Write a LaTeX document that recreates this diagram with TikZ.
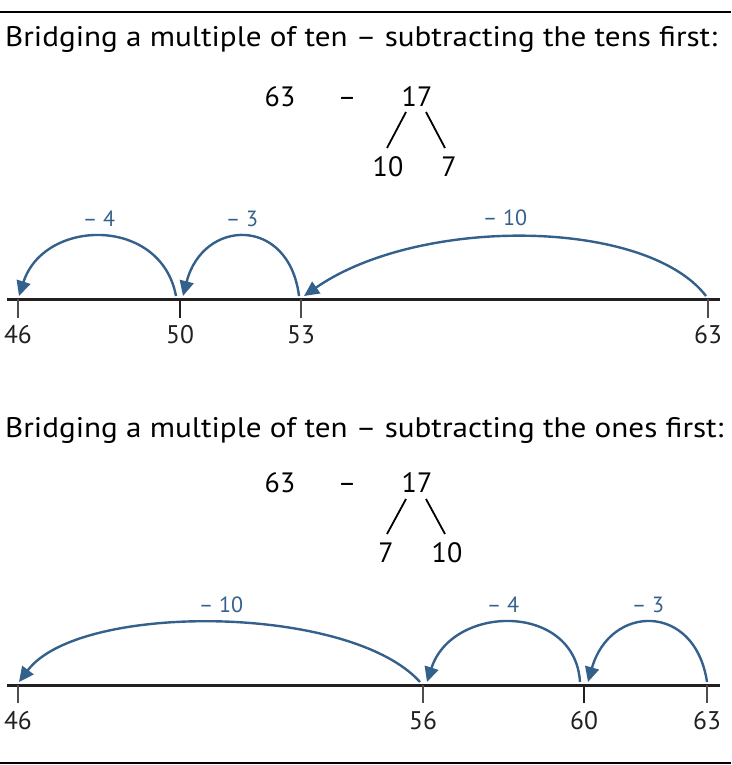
\documentclass[tikz,border=0pt]{standalone}
\usepackage{fontspec}
\setmainfont{PT Sans}
\newfontfamily\headfont[FakeStretch=1.1]{PT Sans}
\usetikzlibrary{arrows.meta}
\definecolor{jumpblue}{RGB}{52,96,140}
\definecolor{inkblack}{RGB}{35,31,32}
\begin{document}
\begin{tikzpicture}[x=1pt,y=-1pt,line cap=butt,line join=miter,
		title/.style={anchor=base west,inner sep=0pt,font=\headfont\fontsize{28.3}{34}\selectfont},
		sumnum/.style={inner sep=0pt,text height=19.6pt,text depth=0pt,font=\fontsize{28}{34}\selectfont},
		numlabel/.style={anchor=base,inner sep=0pt,font=\fontsize{25.5}{30}\selectfont,inkblack},
		jumplabel/.style={inner sep=0pt,text height=15pt,text depth=0pt,font=\fontsize{22}{26}\selectfont,jumpblue},
		jump/.style={jumpblue,line width=2.4pt,-{Triangle[length=15pt,width=14pt]}},
		branch/.style={line width=1.8pt},
		numline/.style={inkblack,line width=3pt},
		tickmark/.style={inkblack!80,line width=1.4pt},
		bigtick/.style={inkblack,line width=2.8pt}]
	\useasboundingbox (0,0) rectangle (731,765);
	\draw[line width=2pt] (0,12) -- (731,12);
	\draw[line width=2pt] (0,763) -- (731,763);
	% tens first
	\node[title] (headA) at (5,47) {Bridging a multiple of ten – subtracting the tens first:};
	\node[sumnum] (a63) at (280,97) {63};
	\node[sumnum] (aminus) at (347,97) {–};
	\node[sumnum] (a17) at (417,97) {17};
	\node[sumnum] (a10) at (388,167) {10};
	\node[sumnum] (a7) at (449,167) {7};
	\draw[branch] ([xshift=-11pt,yshift=-5pt]a17.south) -- ([xshift=-1pt,yshift=9pt]a10.north);
	\draw[branch] ([xshift=9pt,yshift=-5pt]a17.south) -- ([xshift=-4pt,yshift=9pt]a7.north);
	\draw[numline] (7,299) -- (720,299);
	\foreach \x/\n in {18/46,301/53,708/63}{
		\draw[tickmark] (\x,299) -- (\x,318);
	}
	\draw[bigtick] (180,299) -- (180,318);
	\foreach \x/\n in {18/46,180/50,301/53,708/63}{
		\coordinate (pa\n) at (\x,296);
		\node[numlabel] (la\n) at (\x,343) {\n};
	}
	\draw[jump] ([xshift=-4pt]pa50) .. controls +(-15,-80) and +(25,-78) .. ([xshift=1pt]pa46);
	\draw[jump] ([xshift=-2pt]pa53) .. controls +(-10,-80) and +(20,-78) .. ([xshift=3pt]pa50);
	\draw[jump] ([xshift=-2pt]pa63) .. controls +(-60,-78) and +(115,-80) .. ([xshift=3pt]pa53);
	\node[jumplabel] (ja4) at (99,219) {– 4};
	\node[jumplabel] (ja3) at (242,219) {– 3};
	\node[jumplabel] (ja10) at (505,218) {– 10};
	% ones first
	\node[title] (headB) at (5,437) {Bridging a multiple of ten – subtracting the ones first:};
	\node[sumnum] (b63) at (280,483) {63};
	\node[sumnum] (bminus) at (347,483) {–};
	\node[sumnum] (b17) at (417,483) {17};
	\node[sumnum] (b7) at (386,553) {7};
	\node[sumnum] (b10) at (447,553) {10};
	\draw[branch] ([xshift=-11pt,yshift=-6pt]b17.south) -- ([xshift=1pt,yshift=9pt]b7.north);
	\draw[branch] ([xshift=9pt,yshift=-6pt]b17.south) -- ([xshift=-2pt,yshift=9pt]b10.north);
	\draw[numline] (7,685) -- (720,685);
	\foreach \x/\n in {18/46,423/56,707/63}{
		\draw[tickmark] (\x,685) -- (\x,703);
	}
	\draw[bigtick] (584,685) -- (584,703);
	\foreach \x/\n in {18/46,423/56,584/60,707/63}{
		\coordinate (pb\n) at (\x,682);
		\node[numlabel] (lb\n) at (\x,729) {\n};
	}
	\draw[jump] ([xshift=-3pt]pb56) .. controls +(-70,-78) and +(60,-80) .. ([xshift=1pt]pb46);
	\draw[jump] ([xshift=-4pt]pb60) .. controls +(-5,-80) and +(25,-78) .. ([xshift=4pt]pb56);
	\draw[jump] (pb63) .. controls +(-12,-80) and +(22,-78) .. ([xshift=4pt]pb60);
	\node[jumplabel] (jb10) at (221,605) {– 10};
	\node[jumplabel] (jb4) at (503,605) {– 4};
	\node[jumplabel] (jb3) at (648,605) {– 3};
\end{tikzpicture}
\end{document}
